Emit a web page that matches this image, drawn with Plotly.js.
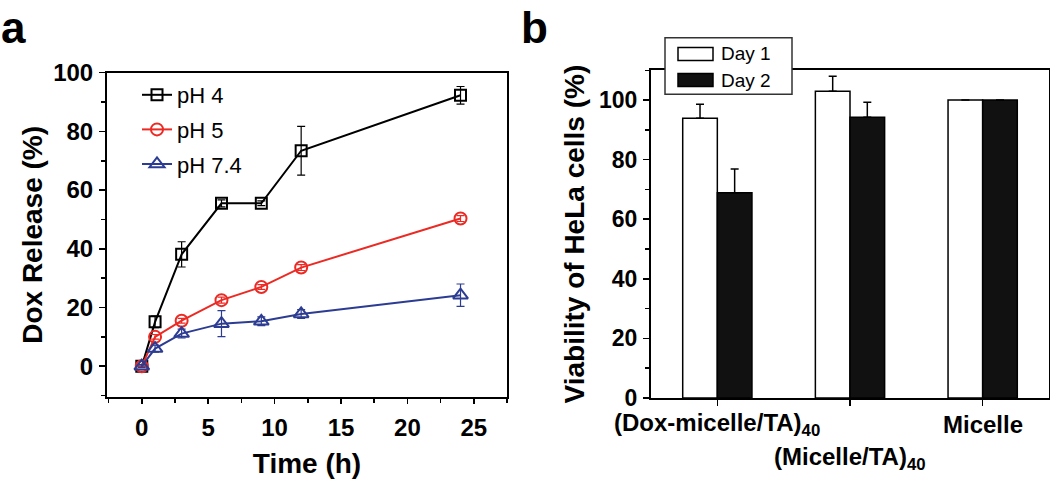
<!DOCTYPE html>
<html>
<head>
<meta charset="utf-8">
<script src="https://cdn.plot.ly/plotly-3.0.1.min.js"></script>
<style>html,body{margin:0;padding:0;background:#fff;}#chart{width:1050px;height:479px;}</style>
</head>
<body>
<div id="chart"></div>
<script>
// ---- Panel a data: Dox release vs time ----
const timeH = [0, 1, 3, 6, 9, 12, 24];
const releasePH4 = [0, 15.1, 38.1, 55.5, 55.5, 73.4, 92.3];
const errPH4 = [0, 2.0, 4.3, 1.2, 0.8, 8.3, 3.0];
const releasePH5 = [0, 10.0, 15.5, 22.5, 27.0, 33.6, 50.3];
const errPH5 = [0, 0.8, 0.8, 1.0, 0.8, 1.0, 1.0];
const releasePH74 = [0, 6.0, 11.1, 14.5, 15.3, 17.8, 24.2];
const errPH74 = [0.5, 1.2, 1.5, 4.4, 1.5, 1.5, 3.8];
const seriesNamesA = ['pH 4', 'pH 5', 'pH 7.4'];

// ---- Panel b data: HeLa cell viability ----
const categories = ['(Dox-micelle/TA)40', '(Micelle/TA)40', 'Micelle'];
const tickLabelsB = ['(Dox-micelle/TA)<sub>40</sub>', '(Micelle/TA)<sub>40</sub>', 'Micelle'];
const viabilityDay1 = [93.9, 103.0, 100];
const errDay1 = [4.7, 5.0, 0];
const viabilityDay2 = [68.9, 94.2, 100];
const errDay2 = [8.0, 5.1, 0];
const seriesNamesB = ['Day 1', 'Day 2'];

const FONT = 'Liberation Sans, Arial, Helvetica, sans-serif';
const W = 1050, H = 479;
const px = v => v / W;
const py = v => 1 - v / H;

const colA = ['#000000', '#ec2a24', '#2c3c92'];
const symA = ['square-open', 'circle-open', 'triangle-up-open'];
const sizeA = [11, 12, 13];
const valsA = [releasePH4, releasePH5, releasePH74];
const errsA = [errPH4, errPH5, errPH74];

const traces = [];
for (let i = 0; i < 3; i++) {
  traces.push({
    type: 'scatter', mode: 'lines+markers', x: timeH, y: valsA[i], name: seriesNamesA[i],
    xaxis: 'x', yaxis: 'y', legendgroup: 'g' + i,
    line: {color: colA[i], width: 2},
    marker: {symbol: symA[i], size: sizeA[i], color: colA[i], line: {color: colA[i], width: 2}},
    error_y: {type: 'data', array: errsA[i], visible: true, color: colA[i], thickness: 1.2, width: 4}
  });
}
traces.push({
  type: 'bar', x: categories, y: viabilityDay1, name: seriesNamesB[0], xaxis: 'x2', yaxis: 'y2', showlegend: false,
  marker: {color: '#ffffff', line: {color: '#000000', width: 1.5}},
  error_y: {type: 'data', symmetric: false, array: errDay1, arrayminus: [0, 0, 0], visible: true, color: '#000', thickness: 1.5, width: 4}
});
traces.push({
  type: 'bar', x: categories, y: viabilityDay2, name: seriesNamesB[1], xaxis: 'x2', yaxis: 'y2', showlegend: false,
  marker: {color: '#111111', line: {color: '#000000', width: 1.5}},
  error_y: {type: 'data', symmetric: false, array: errDay2, arrayminus: [0, 0, 0], visible: true, color: '#000', thickness: 1.5, width: 4}
});

const annotations = [
  {text: '<b>a</b>', xref: 'paper', yref: 'paper', x: px(-1), y: py(28), xanchor: 'left', yanchor: 'middle', showarrow: false, font: {family: FONT, size: 44, color: '#000'}},
  {text: '<b>b</b>', xref: 'paper', yref: 'paper', x: px(519), y: py(28), xanchor: 'left', yanchor: 'middle', showarrow: false, font: {family: FONT, size: 44, color: '#000'}}
];
const rowY = [424, 458, 424];
for (let i = 0; i < categories.length; i++) {
  annotations.push({text: '<b>' + tickLabelsB[i] + '</b>', xref: 'x2', yref: 'paper', x: categories[i], y: py(rowY[i]),
    xanchor: 'center', yanchor: 'middle', showarrow: false, font: {family: FONT, size: 24, color: '#000'}});
}
// manual legend for panel b
const legRowsB = [54, 80];
const shapes = [
  {type: 'rect', xref: 'paper', yref: 'paper', x0: px(665), x1: px(792), y0: py(94.3), y1: py(37.7), layer: 'above',
   line: {color: '#333', width: 1.5}, fillcolor: '#fff'}
];
const legFill = ['#ffffff', '#111111'];
for (let i = 0; i < 2; i++) {
  shapes.push({type: 'rect', xref: 'paper', yref: 'paper', x0: px(678), x1: px(713), y0: py(legRowsB[i] + 6.5), y1: py(legRowsB[i] - 6.5),
    layer: 'above', line: {color: '#000', width: 1.5}, fillcolor: legFill[i]});
  annotations.push({text: seriesNamesB[i], xref: 'paper', yref: 'paper', x: px(719), y: py(legRowsB[i]), xanchor: 'left', yanchor: 'middle',
    showarrow: false, font: {family: FONT, size: 19, color: '#000'}});
}

const axCommon = {showgrid: false, zeroline: false, showline: true, linecolor: '#000', linewidth: 2, mirror: true,
  ticks: 'outside', tickcolor: '#000', tickwidth: 1.5, ticklen: 6};

const layout = {
  width: W, height: H, margin: {l: 0, r: 0, t: 0, b: 0}, paper_bgcolor: '#fff', plot_bgcolor: '#fff',
  font: {family: FONT, color: '#000'},
  showlegend: true,
  legend: {x: px(137), y: py(74), xanchor: 'left', yanchor: 'top', bgcolor: 'rgba(0,0,0,0)', borderwidth: 0,
    font: {family: FONT, size: 22, color: '#000'}, traceorder: 'grouped', tracegroupgap: 3, itemwidth: 30},
  bargap: 0.478, bargroupgap: 0, barmode: 'group',
  xaxis: Object.assign({}, axCommon, {domain: [px(107), px(507)], range: [-2.62, 27.5], tickvals: [0, 5, 10, 15, 20, 25],
    ticklen: 5, minor: {dtick: 2.5, tick0: 0, ticks: 'outside', ticklen: 4, tickwidth: 1.5, tickcolor: '#000'},
    tickfont: {family: FONT, size: 24, color: '#000', weight: 'bold'}, ticklabelstandoff: 3,
    title: {text: '<b>Time (h)</b>', font: {family: FONT, size: 28, color: '#000'}, standoff: 18}, anchor: 'y'}),
  yaxis: Object.assign({}, axCommon, {domain: [py(397), py(72.7)], range: [-10.5, 100], tickvals: [0, 20, 40, 60, 80, 100],
    minor: {dtick: 10, tick0: 0, ticks: 'outside', ticklen: 4, tickwidth: 1.5, tickcolor: '#000'},
    tickfont: {family: FONT, size: 24, color: '#000', weight: 'bold'}, ticklabelstandoff: 1,
    title: {text: '<b>Dox Release (%)</b>', font: {family: FONT, size: 28, color: '#000'}, standoff: 2}, anchor: 'x'}),
  xaxis2: Object.assign({}, axCommon, {domain: [px(651), px(1049)], range: [-0.5, 2.5], type: 'category', showticklabels: false,
    anchor: 'y2'}),
  yaxis2: Object.assign({}, axCommon, {domain: [py(397.9), py(70.3)], range: [0, 110], tickvals: [0, 20, 40, 60, 80, 100],
    minor: {dtick: 10, tick0: 0, ticks: 'outside', ticklen: 4, tickwidth: 1.5, tickcolor: '#000'},
    tickfont: {family: FONT, size: 23, color: '#000', weight: 'bold'}, ticklabelstandoff: 1,
    title: {text: '<b>Viability of HeLa cells (%)</b>', font: {family: FONT, size: 28, color: '#000'}, standoff: 6}, anchor: 'x2'}),
  annotations: annotations,
  shapes: shapes
};

Plotly.newPlot('chart', traces, layout, {displayModeBar: false, staticPlot: true});
</script>
</body>
</html>
